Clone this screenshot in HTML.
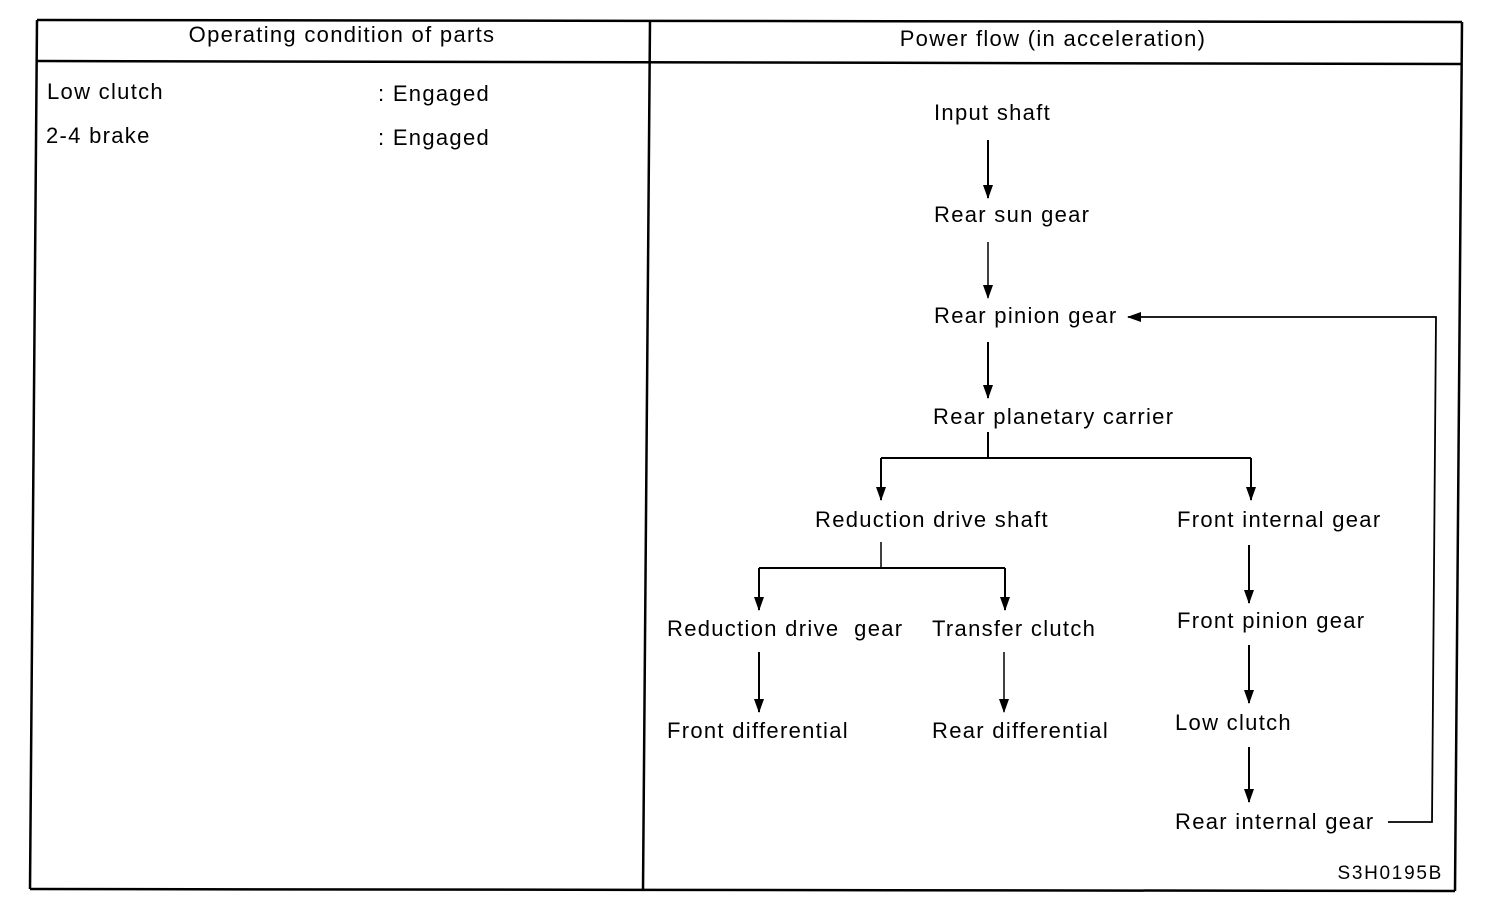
<!DOCTYPE html>
<html><head><meta charset="utf-8"><style>
html,body{margin:0;padding:0;background:#fff;}
svg{display:block;}
text{font-family:"Liberation Sans",Arial,sans-serif;font-size:22px;fill:#000;dominant-baseline:middle;letter-spacing:1.3px;}
</style></head><body>
<svg width="1504" height="916" viewBox="0 0 1504 916" xmlns="http://www.w3.org/2000/svg">
<defs>
<marker id="a" markerWidth="14" markerHeight="10" refX="13" refY="5" orient="auto" markerUnits="userSpaceOnUse" viewBox="0 0 14 10">
<path d="M0,0 L14,5 L0,10 Z" fill="#000"/>
</marker>
</defs>
<g stroke="#000" stroke-width="2.5" fill="none">
<line x1="37" y1="20" x2="1462" y2="22"/>
<line x1="37" y1="20" x2="30" y2="889"/>
<line x1="1462" y1="22" x2="1455" y2="891"/>
<line x1="30" y1="889" x2="1455" y2="891"/>
<line x1="650" y1="20" x2="643" y2="890"/>
<line x1="37" y1="61" x2="1461" y2="64"/>
</g>
<text x="342" y="36" text-anchor="middle">Operating condition of parts</text>
<text x="1053" y="40" text-anchor="middle">Power flow (in acceleration)</text>
<text x="47" y="93">Low clutch</text>
<text x="378" y="95">: Engaged</text>
<text x="46" y="137">2-4 brake</text>
<text x="378" y="139">: Engaged</text>

<g stroke="#000" stroke-width="2" fill="none">
<line x1="988" y1="140" x2="988" y2="198" marker-end="url(#a)"/>
<line x1="988" y1="242" x2="988" y2="298" marker-end="url(#a)" stroke-width="1.5"/>
<line x1="988" y1="342" x2="988" y2="398" marker-end="url(#a)"/>
<polyline points="1388,822 1432,822 1436,317 1128,317" marker-end="url(#a)" stroke-width="1.8"/>
<line x1="988" y1="432" x2="988" y2="458"/>
<line x1="881" y1="458" x2="1251" y2="458"/>
<line x1="881" y1="458" x2="881" y2="500" marker-end="url(#a)"/>
<line x1="1251" y1="458" x2="1251" y2="500" marker-end="url(#a)"/>
<line x1="881" y1="542" x2="881" y2="568" stroke-width="1.5"/>
<line x1="759" y1="568" x2="1005" y2="568"/>
<line x1="759" y1="568" x2="759" y2="610" marker-end="url(#a)"/>
<line x1="1005" y1="568" x2="1005" y2="610" marker-end="url(#a)"/>
<line x1="759" y1="652" x2="759" y2="712" marker-end="url(#a)"/>
<line x1="1004" y1="652" x2="1004" y2="712" marker-end="url(#a)" stroke-width="1.5"/>
<line x1="1249" y1="545" x2="1249" y2="603" marker-end="url(#a)"/>
<line x1="1249" y1="645" x2="1249" y2="703" marker-end="url(#a)"/>
<line x1="1249" y1="747" x2="1249" y2="802" marker-end="url(#a)"/>
</g>

<text x="934" y="114">Input shaft</text>
<text x="934" y="216">Rear sun gear</text>
<text x="934" y="317">Rear pinion gear</text>
<text x="933" y="418">Rear planetary carrier</text>
<text x="815" y="521">Reduction drive shaft</text>
<text x="1177" y="521">Front internal gear</text>
<text x="667" y="630" xml:space="preserve">Reduction drive  gear</text>
<text x="932" y="630">Transfer clutch</text>
<text x="1177" y="622">Front pinion gear</text>
<text x="667" y="732">Front differential</text>
<text x="932" y="732">Rear differential</text>
<text x="1175" y="724">Low clutch</text>
<text x="1175" y="823">Rear internal gear</text>
<text x="1443" y="874" text-anchor="end" style="font-size:19px;letter-spacing:1.7px">S3H0195B</text>
</svg>
</body></html>
